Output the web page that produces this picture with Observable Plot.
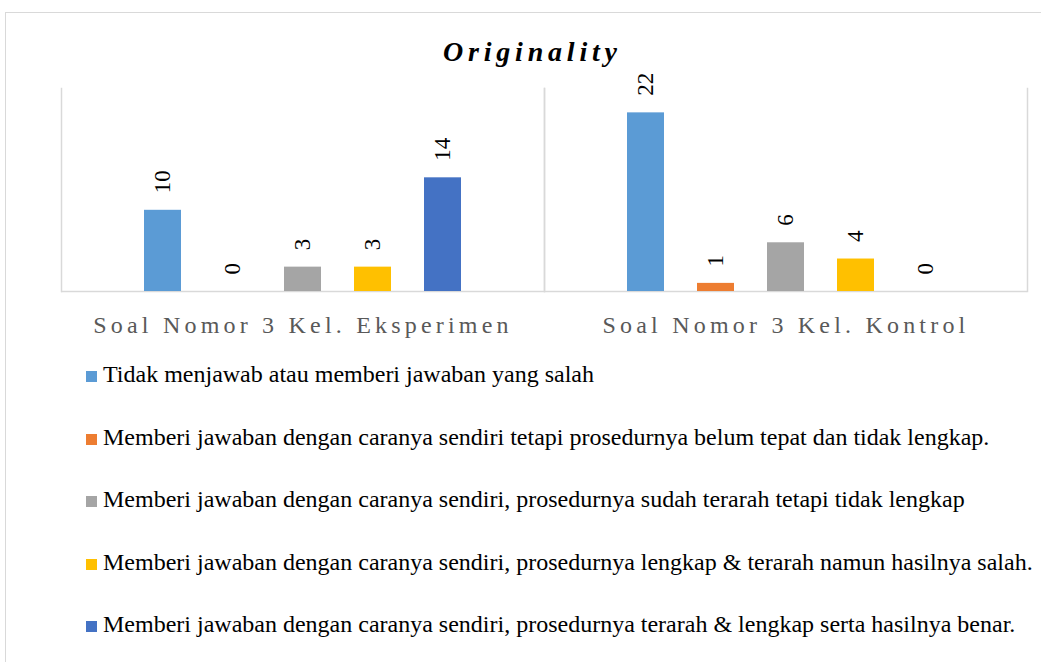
<!DOCTYPE html>
<html><head><meta charset="utf-8">
<script src="https://cdn.jsdelivr.net/npm/d3@7"></script>
<script src="https://cdn.jsdelivr.net/npm/@observablehq/plot@0.6"></script>
<style>
body{margin:0;background:#fff;width:1041px;height:662px;overflow:hidden;position:relative;font-family:"Liberation Serif","Times New Roman",serif;}
#frame{position:absolute;left:5px;top:12px;width:1100px;height:700px;border:1.5px solid #d9d9d9;box-sizing:border-box;}
#title{position:absolute;left:443px;top:38px;font-size:28px;line-height:28px;font-weight:bold;font-style:italic;letter-spacing:4.8px;white-space:nowrap;color:#000}
#chart{position:absolute;left:0;top:0}
#chart svg, #chart svg text{font-family:"Liberation Serif","Times New Roman",serif !important}
#chart g[aria-label^="fx-axis"] text{letter-spacing:4.2px}
.leg{position:absolute;left:86px;font-size:24px;line-height:24px;white-space:nowrap;color:#000}
.sw{display:inline-block;width:11px;height:11px;margin-right:6px}
</style></head><body>
<div id="frame"></div>
<div id="chart"></div>
<div id="title">Originality</div>
<div id="legend"></div>
<script>
const groups = ["Soal Nomor 3 Kel. Eksperimen", "Soal Nomor 3 Kel. Kontrol"];
const series = [
  "Tidak menjawab atau memberi jawaban yang salah",
  "Memberi jawaban dengan caranya sendiri tetapi prosedurnya belum tepat dan tidak lengkap.",
  "Memberi jawaban dengan caranya sendiri, prosedurnya sudah terarah tetapi tidak lengkap",
  "Memberi jawaban dengan caranya sendiri, prosedurnya lengkap & terarah namun hasilnya salah.",
  "Memberi jawaban dengan caranya sendiri, prosedurnya terarah & lengkap serta hasilnya benar."
];
const colors = ["#5B9BD5", "#ED7D31", "#A5A5A5", "#FFC000", "#4472C4"];
const eksperimen = [10, 0, 3, 3, 14];
const kontrol = [22, 1, 6, 4, 0];

const values = [eksperimen, kontrol];
const rows = groups.flatMap((g, gi) => series.map((s, si) => ({group: g, series: s, value: values[gi][si]})));
const serif = "'Liberation Serif','Times New Roman',serif";

const chart = Plot.plot({
  width: 1041, height: 350,
  marginTop: 88, marginBottom: 59, marginLeft: 61, marginRight: 14,
  fx: {domain: groups, padding: 0, label: null, axis: "bottom", tickSize: 0, tickPadding: 24},
  x: {domain: series, axis: null, paddingInner: 0.475, paddingOuter: 1.156},
  y: {domain: [0, 25], axis: null},
  color: {domain: series, range: colors},
  style: {fontFamily: serif, fontSize: "24px", color: "#595959", background: "transparent", overflow: "visible"},
  marks: [
    Plot.frame({anchor: "left", stroke: "#d9d9d9", strokeWidth: 1.5}),
    Plot.frame({anchor: "right", stroke: "#d9d9d9", strokeWidth: 1.5}),
    Plot.ruleY([0], {stroke: "#d9d9d9", strokeWidth: 1.5}),
    Plot.barY(rows, {fx: "group", x: "series", y: "value", fill: "series"}),
    Plot.text(rows, {fx: "group", x: "series", y: "value", text: d => String(d.value), rotate: -90, textAnchor: "start", dy: -17, fontSize: 23, fontFamily: serif, fill: "#000"})
  ]
});
document.getElementById("chart").appendChild(chart);

const legend = document.getElementById("legend");
series.forEach((s, i) => {
  const row = document.createElement("div");
  row.className = "leg";
  row.style.top = (362 + 62.5 * i) + "px";
  const sw = document.createElement("span");
  sw.className = "sw";
  sw.style.background = colors[i];
  row.appendChild(sw);
  row.appendChild(document.createTextNode(s));
  legend.appendChild(row);
});
</script>
</body></html>
